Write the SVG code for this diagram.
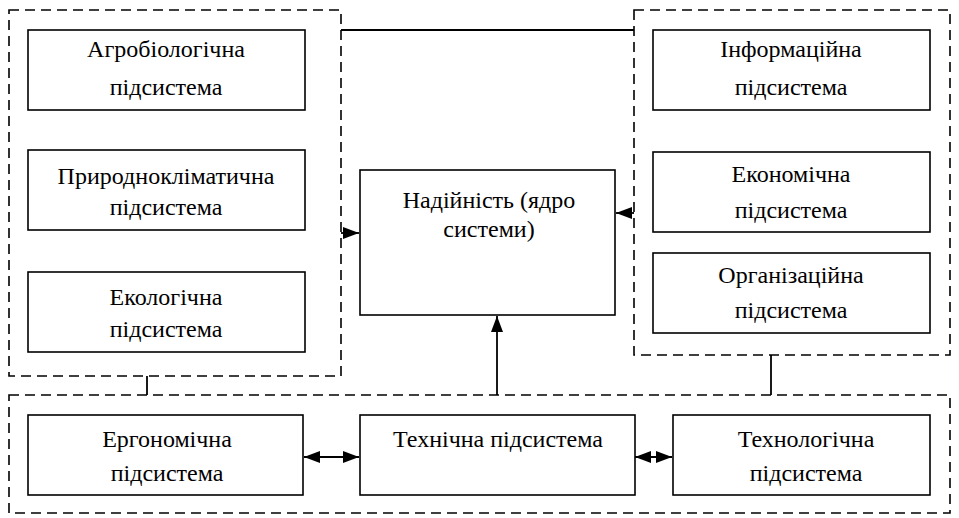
<svg xmlns="http://www.w3.org/2000/svg" width="959" height="518" viewBox="0 0 959 518">
<style>
.grp{fill:none;stroke:#000;stroke-width:1.6;stroke-dasharray:10 6}
.box{fill:#fff;stroke:#000;stroke-width:1.6}
.ln{fill:none;stroke:#000;stroke-width:1.8}
.t{font-family:'Liberation Serif','Times New Roman','DejaVu Serif',serif;font-size:24px;fill:#000;text-anchor:middle}
</style>
<defs>
<marker id="ah2" markerWidth="16" markerHeight="12" refX="16" refY="6" orient="auto-start-reverse" markerUnits="userSpaceOnUse" viewBox="0 0 16 12">
<path d="M0,0 L16,6 L0,12 Z" fill="#000"/>
</marker>
</defs>
<g id="groups">
<rect class="grp" x="9" y="10" width="332" height="366"/>
<rect class="grp" x="634" y="10" width="316" height="345"/>
<rect class="grp" x="9" y="395" width="941" height="118"/>
</g>
<g id="connectors">
<path class="ln" d="M341,30 H634"/>
<path class="ln" d="M341,233 H359" marker-end="url(#ah2)"/>
<path class="ln" d="M634,213 H616" marker-end="url(#ah2)"/>
<path class="ln" d="M147,376 V395"/>
<path class="ln" d="M771,355 V395"/>
<path class="ln" d="M497,395 V316" marker-end="url(#ah2)"/>
<path class="ln" d="M304,457 H359" marker-start="url(#ah2)" marker-end="url(#ah2)"/>
<path class="ln" d="M635,457 H672" marker-start="url(#ah2)" marker-end="url(#ah2)"/>
</g>
<g class="t">
<g id="agro"><rect class="box" x="28" y="30" width="277" height="80"/><text x="166" y="57">Агробіологічна</text><text x="166" y="95">підсистема</text></g>
<g id="pryrod"><rect class="box" x="28" y="150" width="277" height="80"/><text x="166" y="184">Природнокліматична</text><text x="166" y="215">підсистема</text></g>
<g id="ekol"><rect class="box" x="28" y="272" width="277" height="80"/><text x="166" y="305">Екологічна</text><text x="166" y="337">підсистема</text></g>
<g id="core"><rect class="box" x="360" y="170" width="255" height="145"/><text x="489" y="208">Надійність (ядро</text><text x="489" y="237">системи)</text></g>
<g id="inform"><rect class="box" x="653" y="30" width="277" height="80"/><text x="791" y="57">Інформаційна</text><text x="791" y="95">підсистема</text></g>
<g id="ekon"><rect class="box" x="653" y="152" width="277" height="80"/><text x="791" y="182">Економічна</text><text x="791" y="218">підсистема</text></g>
<g id="org"><rect class="box" x="653" y="253" width="277" height="80"/><text x="791" y="283">Організаційна</text><text x="791" y="318">підсистема</text></g>
<g id="ergo"><rect class="box" x="28" y="415" width="275" height="80"/><text x="167" y="447">Ергономічна</text><text x="167" y="481">підсистема</text></g>
<g id="tech"><rect class="box" x="360" y="415" width="275" height="80"/><text x="498" y="447">Технічна підсистема</text></g>
<g id="techno"><rect class="box" x="673" y="415" width="257" height="80"/><text x="806" y="447">Технологічна</text><text x="806" y="481">підсистема</text></g>
</g>
</svg>
